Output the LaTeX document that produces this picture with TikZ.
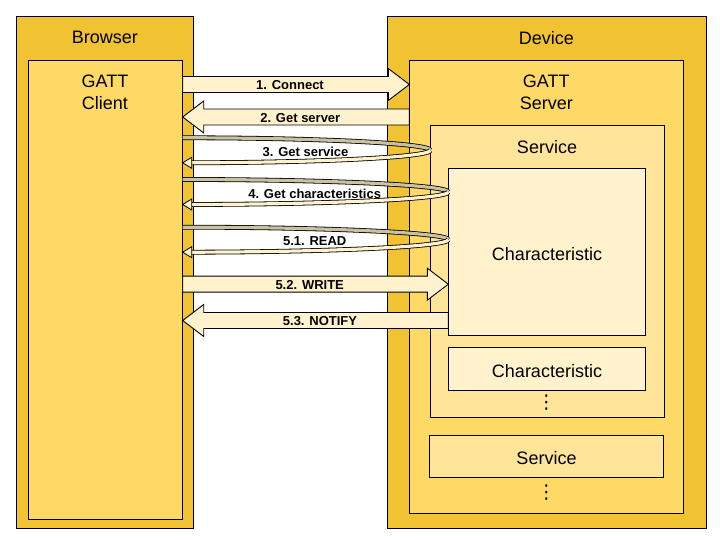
\documentclass[tikz,border=0pt]{standalone}
\usepackage{fontspec}
\setmainfont{Liberation Sans}
\newfontfamily\symbolfont{DejaVu Sans}
\usetikzlibrary{calc}

\definecolor{hostfill}{HTML}{F1C232}
\definecolor{gattfill}{HTML}{FFD966}
\definecolor{servfill}{HTML}{FFE599}
\definecolor{charfill}{HTML}{FFF2CC}
\definecolor{bandback}{HTML}{C9C1A0}

\tikzset{
  box/.style={draw=black, line width=1pt, rectangle, inner sep=0pt, anchor=south west},
  boxtext/.style={font=\fontsize{18}{22}\selectfont, align=center, inner sep=0pt},
  intext/.style={boxtext, text height=16pt, text depth=0pt},
  dotstext/.style={font=\symbolfont\fontsize{19}{22}\selectfont, inner sep=0pt},
  msgtext/.style={font=\fontsize{13}{15}\selectfont\bfseries, inner sep=0pt},
  blockarrow/.style={draw=black, line width=0.9pt, fill=charfill, line join=miter},
  bandfront/.style={line width=0.8pt, double=charfill, double distance=3.2pt},
  bandrear/.style={line width=0.8pt, double=bandback, double distance=3.2pt},
}

% block arrow pointing right: tail anchor, tip anchor, y
\newcommand{\rblock}[3]{%
  \draw[blockarrow] let \p1=(#1), \p2=(#2) in
    (\x1,#3pt+8pt) -- (\x2-21pt,#3pt+8pt) -- (\x2-21pt,#3pt+16pt) -- (\x2,#3pt)
    -- (\x2-21pt,#3pt-16pt) -- (\x2-21pt,#3pt-8pt) -- (\x1,#3pt-8pt) -- cycle;}
% block arrow pointing left: tail anchor, tip anchor, y
\newcommand{\lblock}[3]{%
  \draw[blockarrow] let \p1=(#1), \p2=(#2) in
    (\x1,#3pt+8pt) -- (\x2+21pt,#3pt+8pt) -- (\x2+21pt,#3pt+16pt) -- (\x2,#3pt)
    -- (\x2+21pt,#3pt-16pt) -- (\x2+21pt,#3pt-8pt) -- (\x1,#3pt-8pt) -- cycle;}
% request and answer: client anchor, turning anchor, y of the turn
\newcommand{\uturn}[3]{%
  \draw[bandrear] let \p1=(#1), \p2=(#2), \n1={\x2-\x1} in
    (\x1,#3pt+12.5pt) arc[start angle=90, end angle=0, x radius=\n1, y radius=12.5pt];
  \draw[bandfront] let \p1=(#1), \p2=(#2), \n1={\x2-\x1} in
    (\x2,#3pt) arc[start angle=0, end angle=-88, x radius=\n1, y radius=12.5pt];
  \draw[blockarrow, line width=0.8pt] let \p1=(#1) in
    (\x1,#3pt-12.5pt) -- (\x1+9pt,#3pt-7pt) -- (\x1+9pt,#3pt-18pt) -- cycle;}

\begin{document}
\begin{tikzpicture}[x=1pt, y=1pt]
\useasboundingbox (0,0) rectangle (720,540);

% browser side
\node[box, fill=hostfill, minimum width=177pt, minimum height=512pt] (browser) at (16.3,10.7) {};
\node[box, fill=gattfill, minimum width=153.4pt, minimum height=459.6pt] (client) at (28.3,19.7) {};
\node[boxtext] (browsername) at (104.8,502.5) {Browser};
\node[boxtext] (clientname) at (105,447.8) {GATT\\Client};

% device side
\node[box, fill=hostfill, minimum width=318.4pt, minimum height=512pt] (device) at (387.3,10.7) {};
\node[box, fill=gattfill, minimum width=274pt, minimum height=453.6pt] (server) at (409.3,25.7) {};
\node[box, fill=servfill, minimum width=233.4pt, minimum height=292pt] (serviceA) at (430.3,121.7) {};
\node[box, fill=charfill, minimum width=196.4pt, minimum height=166.7pt, intext] (charA) at (448.3,204) {Characteristic};
\node[box, fill=charfill, minimum width=196.4pt, minimum height=43pt, intext] (charB) at (448.3,148.7) {Characteristic};
\node[box, fill=servfill, minimum width=233.4pt, minimum height=42.6pt, intext] (serviceB) at (429.3,61.7) {Service};
\node[boxtext] (devicename) at (546.3,502) {Device};
\node[boxtext] (servername) at (546.3,447.8) {GATT\\Server};
\node[boxtext] (serviceAname) at (547,393) {Service};
\node[dotstext] (moreA) at (546.3,137.5) {⋮};
\node[dotstext] (moreB) at (546.3,47) {⋮};

% messages
\rblock{client.east}{server.west}{455.5}
\lblock{server.west}{client.east}{423}
\uturn{client.east}{serviceA.west}{389.7}
\uturn{client.east}{charA.west}{348}
\uturn{client.east}{charA.west}{300.3}
\rblock{client.east}{charA.west}{255.8}
\lblock{charA.west}{client.east}{219.5}

\node[msgtext] (m1) at (290,455) {1. Connect};
\node[msgtext] (m2) at (300.3,422.3) {2. Get server};
\node[msgtext] (m3) at (305.5,388) {3. Get service};
\node[msgtext] (m4) at (314.7,346) {4. Get characteristics};
\node[msgtext] (m51) at (314.7,299) {5.1. READ};
\node[msgtext] (m52) at (309.7,255) {5.2. WRITE};
\node[msgtext] (m53) at (320,219) {5.3. NOTIFY};

\end{tikzpicture}
\end{document}
